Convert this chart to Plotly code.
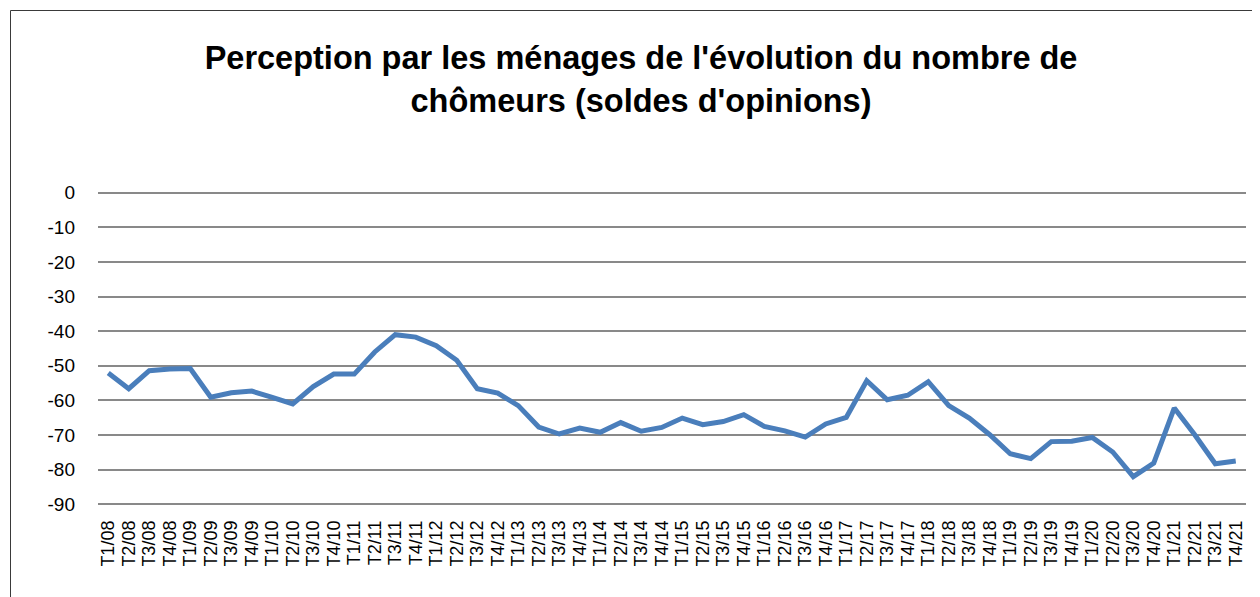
import plotly.graph_objects as go

quarters = [f"T{q}/{y:02d}" for y in range(8, 22) for q in range(1, 5)]
soldes = [-52.1, -56.6, -51.4, -50.9, -50.8, -59.1, -57.8, -57.3, -59.1, -61.0,
          -56.0, -52.4, -52.4, -46.0, -41.0, -41.7, -44.2, -48.4, -56.6, -57.9,
          -61.5, -67.7, -69.7, -68.0, -69.2, -66.4, -68.9, -67.8, -65.1, -67.0,
          -66.1, -64.1, -67.5, -68.8, -70.6, -66.8, -64.9, -54.3, -59.8, -58.5,
          -54.6, -61.5, -65.1, -69.9, -75.4, -76.8, -71.9, -71.8, -70.7, -74.9,
          -82.0, -78.1, -62.2, -69.9, -78.3, -77.5]
y_ticks = [0, -10, -20, -30, -40, -50, -60, -70, -80, -90]

W, H = 1260, 597
L, R, T, B = 90, 22, 183, 99
pw, ph = W - L - R, H - T - B

fig = go.Figure()
fig.add_trace(go.Scatter(
    x=list(range(len(quarters))), y=soldes, mode="lines",
    line=dict(color="#4A7EBB", width=5), hoverinfo="skip", showlegend=False))

fig.update_layout(
    width=W, height=H,
    margin=dict(l=L, r=R, t=T, b=B),
    paper_bgcolor="white", plot_bgcolor="white",
    font=dict(family="Liberation Sans, Arial, sans-serif", color="black"),
    title=dict(
        text="<b>Perception par les ménages de l'évolution du nombre de<br>chômeurs (soldes d'opinions)</b>",
        x=0.5024, xanchor="center", y=0.897, yanchor="middle",
        font=dict(size=32.5, family="Liberation Sans, Arial, sans-serif", color="black")),
    xaxis=dict(
        range=[-0.5, len(quarters) - 0.5],
        tickmode="array", tickvals=list(range(len(quarters))), ticktext=quarters,
        tickangle=-90, tickfont=dict(size=18), showgrid=False,
        showline=False, zeroline=False, ticks="", ticklabelstandoff=10),
    yaxis=dict(
        range=[-90.5, 0.5], tickmode="array", tickvals=y_ticks,
        ticktext=[str(v) for v in y_ticks],
        tickfont=dict(size=19), showgrid=True, gridcolor="#898989", gridwidth=2,
        zeroline=False, showline=False, ticks="", ticklabelstandoff=22),
    shapes=[dict(type="rect", xref="paper", yref="paper",
                 x0=(2.5 - L) / pw, x1=(W + 20 - L) / pw,
                 y0=-(B + 20) / ph, y1=(H - B - 2.5) / ph,
                 line=dict(color="#3A3A3A", width=1), fillcolor="rgba(0,0,0,0)",
                 layer="below")],
)

fig.write_html("out.html")
